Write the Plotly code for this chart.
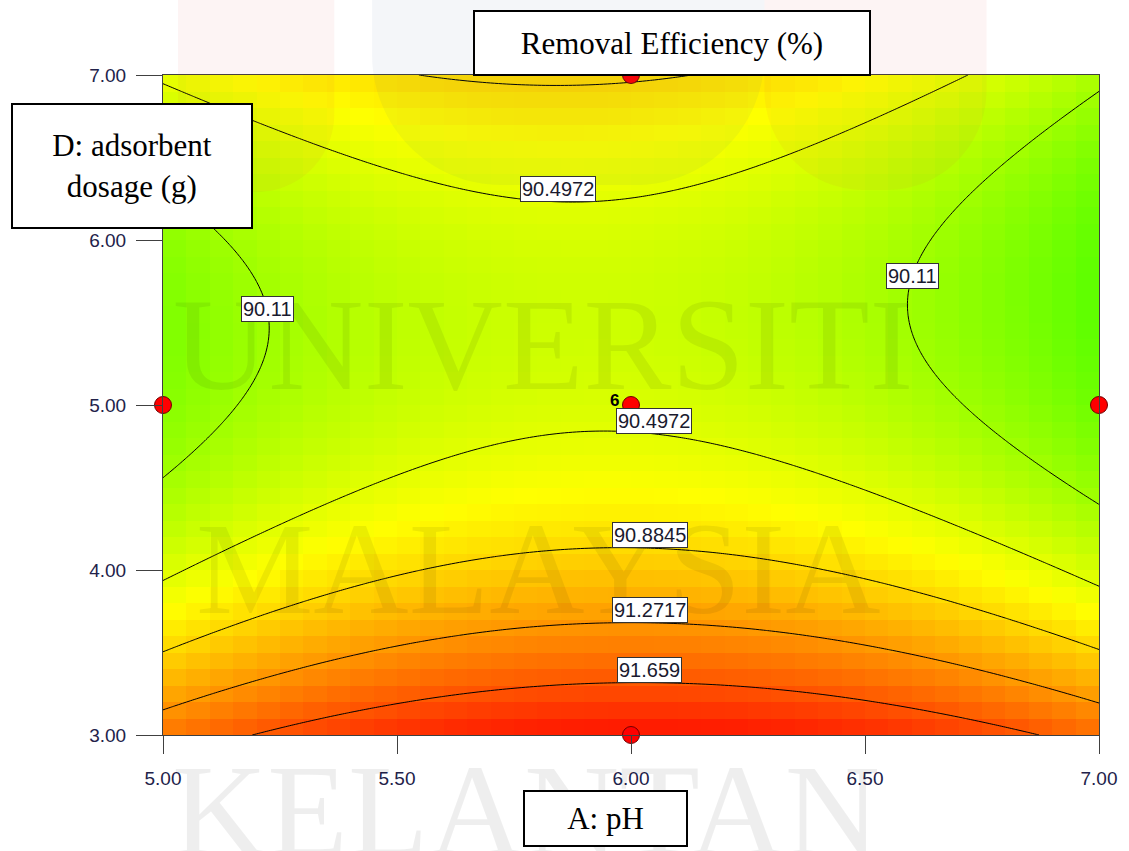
import numpy as np
import plotly.graph_objects as go

# ---------------- data ----------------
ph_range = [5.0, 7.0]            # A: pH
dose_range = [3.0, 7.0]          # D: adsorbent dosage (g)
# quadratic response-surface coefficients, coded units (A = pH-6, D = dose-5)
coef_b0 = 90.444
coef_A = -0.073
coef_D = -0.284
coef_AD = -0.054
coef_A2 = -0.559
coef_D2 = 0.2603
contour_levels = [90.11, 90.4972, 90.8845, 91.2717, 91.659]
design_ph = [5.0, 6.0, 7.0, 6.0, 6.0]
design_dose = [5.0, 5.0, 5.0, 3.0, 7.0]
design_reps = [1, 6, 1, 1, 1]
x_ticks = [5.0, 5.5, 6.0, 6.5, 7.0]
y_ticks = [3.0, 4.0, 5.0, 6.0, 7.0]
# contour label placement: level, fixed coordinate, solve-window, which axis is solved
label_levels = [90.4972, 90.4972, 90.8845, 91.2717, 91.659, 90.11, 90.11]
label_fixed = [5.845, 6.05, 6.04, 6.04, 6.04, 5.58, 5.78]
label_window = [(5.8, 7.0), (4.0, 5.5), (3.5, 4.7), (3.2, 4.2), (3.0, 3.6), (5.0, 5.8), (6.2, 7.0)]
label_solve = ["y", "y", "y", "y", "y", "x", "x"]


def model(ph, dose):
    a = np.asarray(ph) - 6.0
    d = np.asarray(dose) - 5.0
    return (coef_b0 + coef_A * a + coef_D * d + coef_AD * a * d
            + coef_A2 * a ** 2 + coef_D2 * d ** 2)


def solve(level, fixed, window, axis):
    lo, hi = window
    f = (lambda v: model(fixed, v) - level) if axis == "y" else (lambda v: model(v, fixed) - level)
    flo = f(lo)
    for _ in range(60):
        mid = 0.5 * (lo + hi)
        fm = f(mid)
        if np.sign(fm) == np.sign(flo):
            lo, flo = mid, fm
        else:
            hi = mid
    return 0.5 * (lo + hi)


# ---------------- surfaces ----------------
ncell = 40
xc = np.linspace(ph_range[0], ph_range[1], ncell + 1)
yc = np.linspace(dose_range[0], dose_range[1], ncell + 1)
xcen = 0.5 * (xc[:-1] + xc[1:])
ycen = 0.5 * (yc[:-1] + yc[1:])
Zc = model(xcen[None, :], ycen[:, None])

xf = np.linspace(ph_range[0], ph_range[1], 241)
yf = np.linspace(dose_range[0], dose_range[1], 241)
Zf = model(xf[None, :], yf[:, None])

zlo, zhi = 86.2, 92.15
rainbow = [[0.0, "#0000ff"], [0.25, "#00ffff"], [0.5, "#00ff00"], [0.75, "#ffff00"], [1.0, "#ff0000"]]

fig = go.Figure()
fig.add_trace(go.Heatmap(x=xcen, y=ycen, z=Zc, zmin=zlo, zmax=zhi, colorscale=rainbow,
                         zsmooth=False, showscale=False, hoverinfo="skip"))
step = contour_levels[1] - contour_levels[0]
fig.add_trace(go.Contour(x=xf, y=yf, z=Zf, showscale=False, hoverinfo="skip",
                         contours=dict(start=min(contour_levels), end=max(contour_levels) + 1e-6,
                                       size=step, coloring="none", showlabels=False),
                         line=dict(color="black", width=1)))
fig.add_trace(go.Scatter(x=design_ph, y=design_dose, mode="markers", cliponaxis=False,
                         marker=dict(size=17, color="#ff0000", line=dict(color="#700000", width=1)),
                         hoverinfo="skip"))

# ---------------- faint watermark logo shapes (page decoration) ----------------
PL, PR, PT, PB = 163.0, 1103.0, 75.0, 735.0


def px2paper(px, py):
    return (px - PL) / (PR - PL), (PB - py) / (PB - PT)


def u_path(x0, x1, top, bot, r):
    k = 0.5523 * r
    pts = [("M", [(x0, top)]), ("L", [(x0, bot - r)]),
           ("C", [(x0, bot - r + k), (x0 + r - k, bot), (x0 + r, bot)]),
           ("L", [(x1 - r, bot)]),
           ("C", [(x1 - r + k, bot), (x1, bot - r + k), (x1, bot - r)]),
           ("L", [(x1, top)])]
    s = ""
    for cmd, ps in pts:
        s += cmd + " ".join("%.5f,%.5f" % px2paper(a, b) for a, b in ps) + " "
    return s + "Z"


shapes = [
    dict(type="path", path=u_path(178, 335, 0, 192, 78), xref="paper", yref="paper",
         fillcolor="rgba(220,70,70,0.06)", line=dict(width=0), layer="above"),
    dict(type="path", path=u_path(373, 767, 0, 185, 130), xref="paper", yref="paper",
         fillcolor="rgba(60,100,150,0.055)", line=dict(width=0), layer="above"),
    dict(type="path", path=u_path(767, 990, 0, 190, 100), xref="paper", yref="paper",
         fillcolor="rgba(220,70,70,0.06)", line=dict(width=0), layer="above"),
]

ann = []
# faint watermark text of the source document
wm_font = dict(family="Liberation Serif, Times New Roman, serif", size=132, color="rgba(0,0,0,0.065)")
for txt, px, py in [("UNIVERSITI", 0.406, 0.592), ("MALAYSIA", 0.401, 0.252), ("KELANTAN", 0.388, -0.115)]:
    ann.append(dict(text=txt, x=px, y=py, xref="paper", yref="paper", showarrow=False,
                    font=wm_font, xanchor="center", yanchor="middle"))

# contour labels
for lev, fx, win, ax in zip(label_levels, label_fixed, label_window, label_solve):
    if ax == "y":
        lx, ly = fx, solve(lev, fx, win, "y")
        ya = "bottom"
    else:
        lx, ly = solve(lev, fx, win, "x"), fx
        ya = "middle"
    ann.append(dict(text=f"{lev:g}", x=lx, y=ly, xref="x", yref="y", showarrow=False,
                    xanchor="center", yanchor=ya,
                    font=dict(family="Liberation Sans, Arial, sans-serif", size=20, color="#1a1a2e"),
                    bgcolor="white", bordercolor="#333333", borderwidth=1, borderpad=1))

# replicate count near centre point
for px_, py_, r in zip(design_ph, design_dose, design_reps):
    if r > 1:
        ann.append(dict(text=f"<b>{r}</b>", x=px_, y=py_, xref="x", yref="y", showarrow=False,
                        xshift=-17, yshift=5,
                        font=dict(family="Liberation Sans, Arial, sans-serif", size=17, color="black")))

serif = dict(family="Liberation Serif, Times New Roman, serif", size=31, color="black")
ann.append(dict(text="Removal Efficiency (%)", x=0.5436, y=1.0485, xref="paper", yref="paper",
                showarrow=False, xanchor="center", yanchor="middle", font=serif,
                width=394, height=62, bgcolor="white", bordercolor="black", borderwidth=2, borderpad=0))
ann.append(dict(text="D: adsorbent<br>dosage (g)", x=-0.033, y=0.862, xref="paper", yref="paper",
                showarrow=False, xanchor="center", yanchor="middle", font=serif,
                width=238, height=122, bgcolor="white", bordercolor="black", borderwidth=2, borderpad=0))
ann.append(dict(text="A: pH", x=0.4723, y=-0.127, xref="paper", yref="paper",
                showarrow=False, xanchor="center", yanchor="middle", font=serif,
                width=161, height=53, bgcolor="white", bordercolor="black", borderwidth=2, borderpad=0))

tickfont = dict(family="Liberation Sans, Arial, sans-serif", size=19, color="#22224a")
fig.update_layout(
    width=1129, height=851,
    margin=dict(l=163, r=26, t=75, b=116),
    paper_bgcolor="white", plot_bgcolor="white",
    showlegend=False,
    annotations=ann,
    shapes=shapes,
    xaxis=dict(range=ph_range, tickvals=x_ticks, ticktext=[f"{v:.2f}" for v in x_ticks],
               ticks="outside", ticklen=18, tickcolor="#404040", tickwidth=1,
               showline=True, linecolor="#404040", linewidth=1, mirror=True,
               showgrid=False, zeroline=False, tickfont=tickfont, ticklabelstandoff=8),
    yaxis=dict(range=dose_range, tickvals=y_ticks, ticktext=[f"{v:.2f}" for v in y_ticks],
               ticks="outside", ticklen=26, tickcolor="#404040", tickwidth=1,
               showline=True, linecolor="#404040", linewidth=1, mirror=True,
               showgrid=False, zeroline=False, tickfont=tickfont, ticklabelstandoff=6),
)

fig.write_html("out.html", config={"displayModeBar": False},
               post_script="document.body.style.margin='0';document.body.style.overflow='hidden';")
